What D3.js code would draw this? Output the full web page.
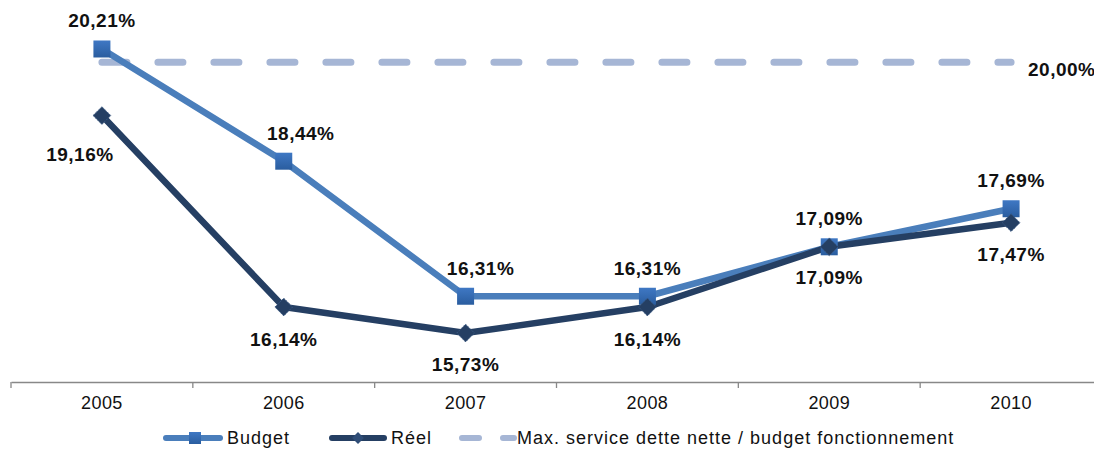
<!DOCTYPE html>
<html>
<head>
<meta charset="utf-8">
<script src="https://cdnjs.cloudflare.com/ajax/libs/d3/7.8.5/d3.min.js"></script>
<style>
body { margin: 0; background: #fff; }
text { font-family: "Liberation Sans", Arial, sans-serif; }
</style>
</head>
<body>
<div id="chart"></div>
<script>
var years = ["2005", "2006", "2007", "2008", "2009", "2010"];
var budget = [20.21, 18.44, 16.31, 16.31, 17.09, 17.69];
var reel = [19.16, 16.14, 15.73, 16.14, 17.09, 17.47];
var maxRatio = 20.00;
var legendNames = ["Budget", "Réel", "Max. service dette nette / budget fonctionnement"];

var width = 1094, height = 449;

var svg = d3.select("#chart").append("svg")
  .attr("width", width)
  .attr("height", height);

var defs = svg.append("defs");
var grad = defs.append("linearGradient").attr("id", "sq").attr("x1", 0).attr("y1", 0).attr("x2", 0).attr("y2", 1);
grad.append("stop").attr("offset", "0%").attr("stop-color", "#3f78c4");
grad.append("stop").attr("offset", "100%").attr("stop-color", "#2a5d9f");

var x = d3.scaleBand().domain(years).range([11, 1102]);
var y = d3.scaleLinear().domain([15, 21]).range([379.3, -1.1]);

function fmt(v) { return v.toFixed(2).replace(".", ",") + "%"; }

// axis
var xAxis = d3.axisBottom(x).tickSize(0).tickPadding(14);
var gx = svg.append("g").attr("transform", "translate(0,382)").call(xAxis);
gx.select(".domain").attr("stroke", "#888").attr("stroke-width", 1.3);
gx.selectAll("text").attr("font-size", 18).attr("fill", "#111")
  .attr("letter-spacing", 0.4)
  .attr("font-family", "'Liberation Sans', Arial, sans-serif");
gx.selectAll(".tk").data(years.concat(["end"])).enter().append("line")
  .attr("x1", function(d, i) { return 11 + i * x.bandwidth(); })
  .attr("x2", function(d, i) { return 11 + i * x.bandwidth(); })
  .attr("y1", 0).attr("y2", 6)
  .attr("stroke", "#888").attr("stroke-width", 1.3);

function cx(i) { return x(years[i]) + x.bandwidth() / 2; }

// max line
svg.append("line")
  .attr("x1", cx(0)).attr("x2", cx(years.length - 1))
  .attr("y1", y(maxRatio)).attr("y2", y(maxRatio))
  .attr("stroke", "#a6b6d5").attr("stroke-width", 7)
  .attr("stroke-linecap", "round")
  .attr("stroke-dasharray", "25 31");

var line = d3.line().x(function(d, i) { return cx(i); }).y(function(d) { return y(d); });

svg.append("path").datum(budget).attr("d", line)
  .attr("fill", "none").attr("stroke", "#4a7ebb").attr("stroke-width", 6.5)
  .attr("stroke-linejoin", "round");
svg.append("path").datum(reel).attr("d", line)
  .attr("fill", "none").attr("stroke", "#253f63").attr("stroke-width", 6.5)
  .attr("stroke-linejoin", "round");

svg.selectAll(".bsq").data(budget).enter().append("rect")
  .attr("x", function(d, i) { return cx(i) - 8.5; })
  .attr("y", function(d) { return y(d) - 8.5; })
  .attr("width", 17).attr("height", 17)
  .attr("fill", "url(#sq)");

var diamond = d3.symbol().type(d3.symbolDiamond2).size(200);
svg.selectAll(".rdm").data(reel).enter().append("path")
  .attr("d", diamond)
  .attr("transform", function(d, i) { return "translate(" + cx(i) + "," + y(d) + ")"; })
  .attr("fill", "#253f63")
  .attr("stroke", "#3b5a85").attr("stroke-width", 1).attr("stroke-dasharray", "1.5 1");

// value labels
var bdx = [0, 17, 15, 0, 0, 0];
var bdy = [-29, -28, -28, -28, -28, -28];
svg.selectAll(".bl").data(budget).enter().append("text")
  .attr("x", function(d, i) { return cx(i) + bdx[i]; })
  .attr("y", function(d, i) { return y(d) + bdy[i]; })
  .attr("dy", "0.35em").attr("text-anchor", "middle")
  .attr("font-size", 19).attr("font-weight", "bold").attr("fill", "#111")
  .attr("letter-spacing", 0.5)
  .text(fmt);

var rdx = [-22, 0, 0, 0, 0, 0];
var rdy = [39, 32, 31, 32, 31, 32];
svg.selectAll(".rl").data(reel).enter().append("text")
  .attr("x", function(d, i) { return cx(i) + rdx[i]; })
  .attr("y", function(d, i) { return y(d) + rdy[i]; })
  .attr("dy", "0.35em").attr("text-anchor", "middle")
  .attr("font-size", 19).attr("font-weight", "bold").attr("fill", "#111")
  .attr("letter-spacing", 0.5)
  .text(fmt);

svg.append("text")
  .attr("x", 1028).attr("y", y(maxRatio) + 7)
  .attr("dy", "0.35em")
  .attr("font-size", 19).attr("font-weight", "bold").attr("fill", "#111")
  .attr("letter-spacing", 0.5)
  .text(fmt(maxRatio));

// legend
var ly = 438;
var leg = svg.append("g").attr("font-size", 18).attr("letter-spacing", 1).attr("fill", "#111");
leg.append("line").attr("x1", 166).attr("x2", 220).attr("y1", ly).attr("y2", ly)
  .attr("stroke", "#4a7ebb").attr("stroke-width", 6).attr("stroke-linecap", "round");
leg.append("rect").attr("x", 189).attr("y", ly - 6).attr("width", 12).attr("height", 12).attr("fill", "url(#sq)");
leg.append("text").attr("x", 227).attr("y", ly).attr("dy", "0.35em").text(legendNames[0]);

leg.append("line").attr("x1", 332).attr("x2", 384).attr("y1", ly).attr("y2", ly)
  .attr("stroke", "#253f63").attr("stroke-width", 6).attr("stroke-linecap", "round");
leg.append("path").attr("d", d3.symbol().type(d3.symbolDiamond2).size(90))
  .attr("transform", "translate(358," + ly + ")").attr("fill", "#2f4d77");
leg.append("text").attr("x", 391).attr("y", ly).attr("dy", "0.35em").text(legendNames[1]);

leg.append("line").attr("x1", 462).attr("x2", 514).attr("y1", ly).attr("y2", ly)
  .attr("stroke", "#a6b6d5").attr("stroke-width", 6).attr("stroke-linecap", "round")
  .attr("stroke-dasharray", "17 24");
leg.append("text").attr("x", 517).attr("y", ly).attr("dy", "0.35em").text(legendNames[2]);
</script>
</body>
</html>
